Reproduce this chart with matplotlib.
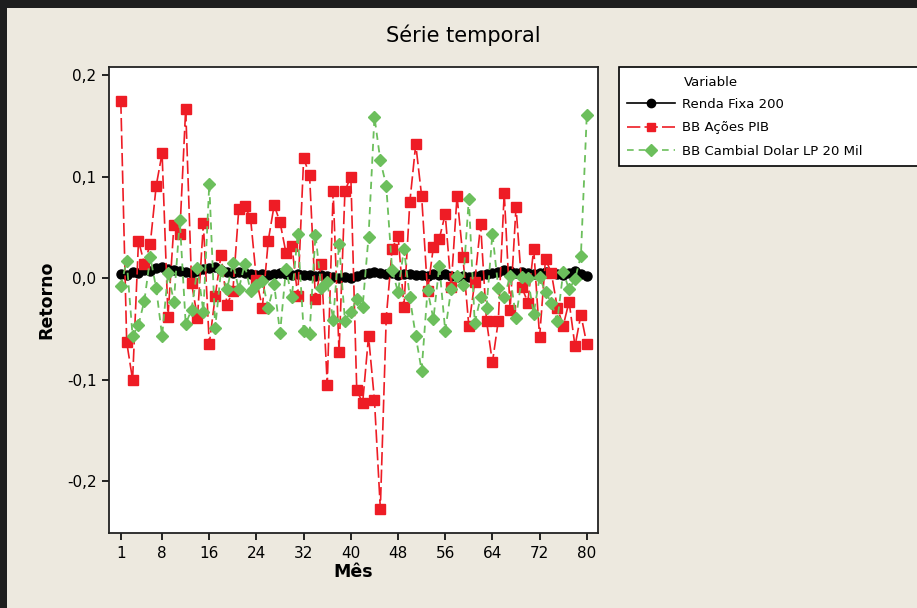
import matplotlib
matplotlib.use("Agg")
import matplotlib.pyplot as plt
from matplotlib.patches import Rectangle
from matplotlib.ticker import FuncFormatter

# Mês 1..80
meses = list(range(1, 81))

renda_fixa = [
    0.004, 0.003, 0.006, 0.005, 0.008, 0.007, 0.010, 0.011, 0.009, 0.008,
    0.007, 0.006, 0.005, 0.007, 0.009, 0.010, 0.011, 0.008, 0.006, 0.005,
    0.006, 0.005, 0.004, 0.003, 0.004, 0.003, 0.004, 0.005, 0.004, 0.003,
    0.004, 0.003, 0.003, 0.002, 0.003, 0.002, 0.001, 0.000, 0.001, 0.000,
    0.002, 0.004, 0.005, 0.006, 0.005, 0.004, 0.005, 0.003, 0.004, 0.004,
    0.003, 0.003, 0.002, 0.004, 0.003, 0.004, 0.002, 0.001, 0.002, 0.001,
    0.002, 0.003, 0.004, 0.005, 0.006, 0.008, 0.007, 0.005, 0.006, 0.005,
    0.004, 0.005, 0.006, 0.005, 0.004, 0.003, 0.005, 0.007, 0.004, 0.002,
]

bb_acoes = [
    0.175, -0.063, -0.100, 0.037, 0.014, 0.034, 0.091, 0.123, -0.038, 0.052,
    0.044, 0.167, -0.005, -0.039, 0.054, -0.065, -0.018, 0.023, -0.026, -0.013,
    0.068, 0.071, 0.059, -0.002, -0.029, 0.037, 0.072, 0.055, 0.025, 0.032,
    -0.018, 0.118, 0.102, -0.021, 0.014, -0.105, 0.086, -0.073, 0.086, 0.100,
    -0.110, -0.123, -0.057, -0.120, -0.227, -0.039, 0.029, 0.042, -0.028, 0.075,
    0.132, 0.081, -0.013, 0.031, 0.039, 0.063, -0.009, 0.081, 0.021, -0.047,
    -0.004, 0.053, -0.042, -0.083, -0.042, 0.084, -0.031, 0.070, -0.009, -0.024,
    0.029, -0.058, 0.019, 0.005, -0.029, -0.047, -0.023, -0.067, -0.036, -0.065,
]

bb_cambial = [
    -0.008, 0.017, -0.057, -0.046, -0.022, 0.021, -0.010, -0.057, 0.005, -0.023,
    0.057, -0.045, -0.031, 0.010, -0.033, 0.093, -0.049, 0.008, -0.011, 0.015,
    -0.011, 0.014, -0.013, -0.007, -0.003, -0.029, -0.006, -0.054, 0.009, -0.019,
    0.044, -0.052, -0.055, 0.043, -0.010, -0.004, -0.041, 0.034, -0.042, -0.033,
    -0.021, -0.028, 0.041, 0.159, 0.116, 0.091, 0.008, -0.014, 0.029, -0.019,
    -0.057, -0.091, -0.012, -0.040, 0.012, -0.052, -0.011, 0.002, -0.007, 0.078,
    -0.044, -0.019, -0.029, 0.044, -0.010, -0.019, 0.002, -0.039, 0.001, 0.000,
    -0.035, 0.001, -0.014, -0.024, -0.042, 0.006, -0.011, -0.001, 0.022, 0.161,
]

x_ticks = [1, 8, 16, 24, 32, 40, 48, 56, 64, 72, 80]
y_ticks = [-0.2, -0.1, 0.0, 0.1, 0.2]

BG = "#EDE9DF"
RED = "#EE1C25"
GREEN = "#6CBF5C"

fig = plt.figure(figsize=(9.17, 6.08), dpi=100, facecolor=BG)
ax = fig.add_axes([109 / 917, 1 - 533 / 608, (598 - 109) / 917, (533 - 67) / 608])
ax.set_facecolor("white")

ax.plot(meses, renda_fixa, color="black", lw=2.6, marker="o", ms=6.5,
        label="Renda Fixa 200")
ax.plot(meses, bb_acoes, color=RED, lw=1.2, dashes=(8, 2.5), marker="s", ms=6.5,
        label="BB Ações PIB")
ax.plot(meses, bb_cambial, color=GREEN, lw=1.3, dashes=(4, 3), marker="D", ms=6,
        label="BB Cambial Dolar LP 20 Mil")

ax.set_xlim(-1.0, 81.9)
ax.set_ylim(-0.251, 0.208)
ax.set_xticks(x_ticks)
ax.set_yticks(y_ticks)
ax.yaxis.set_major_formatter(FuncFormatter(lambda v, p: f"{v:.1f}".replace(".", ",")))
ax.tick_params(axis="both", direction="out", length=5, width=1.2, labelsize=11,
               colors="black", pad=4)
ax.tick_params(top=False, right=False)
for s in ax.spines.values():
    s.set_linewidth(1.3)
    s.set_color("#222222")

ax.set_xlabel("Mês", fontsize=12.5, fontweight="bold", labelpad=2)
ax.set_ylabel("Retorno", fontsize=12.5, fontweight="bold", labelpad=8)

fig.text(0.505, 1 - 35 / 608, "Série temporal", ha="center", va="center",
         fontsize=15)

# legend box
fig.add_artist(Rectangle((619 / 917, 1 - 166 / 608), 320 / 917, 99 / 608,
                         transform=fig.transFigure, facecolor="white",
                         edgecolor="black", lw=1.2, clip_on=False))
fig.text(684 / 917, 1 - 83 / 608, "Variable", ha="left", va="center", fontsize=9.5)
leg = fig.legend(loc="upper left", bbox_to_anchor=(627 / 917, 1 - 98 / 608),
                 frameon=False, fontsize=9.5, handlelength=3.6, handletextpad=0.6,
                 labelspacing=0.78, borderaxespad=0, borderpad=0)
for h in leg.legend_handles:
    h.set_linewidth(1.2)
    h.set_markersize(6)

# dark window frame on top and left
fig.add_artist(Rectangle((0, 1 - 8 / 608), 1, 8 / 608, transform=fig.transFigure,
                         facecolor="#1E1E1E", edgecolor="none"))
fig.add_artist(Rectangle((0, 0), 7 / 917, 1, transform=fig.transFigure,
                         facecolor="#1E1E1E", edgecolor="none"))

fig.savefig("out.png", dpi=100, facecolor=BG)
